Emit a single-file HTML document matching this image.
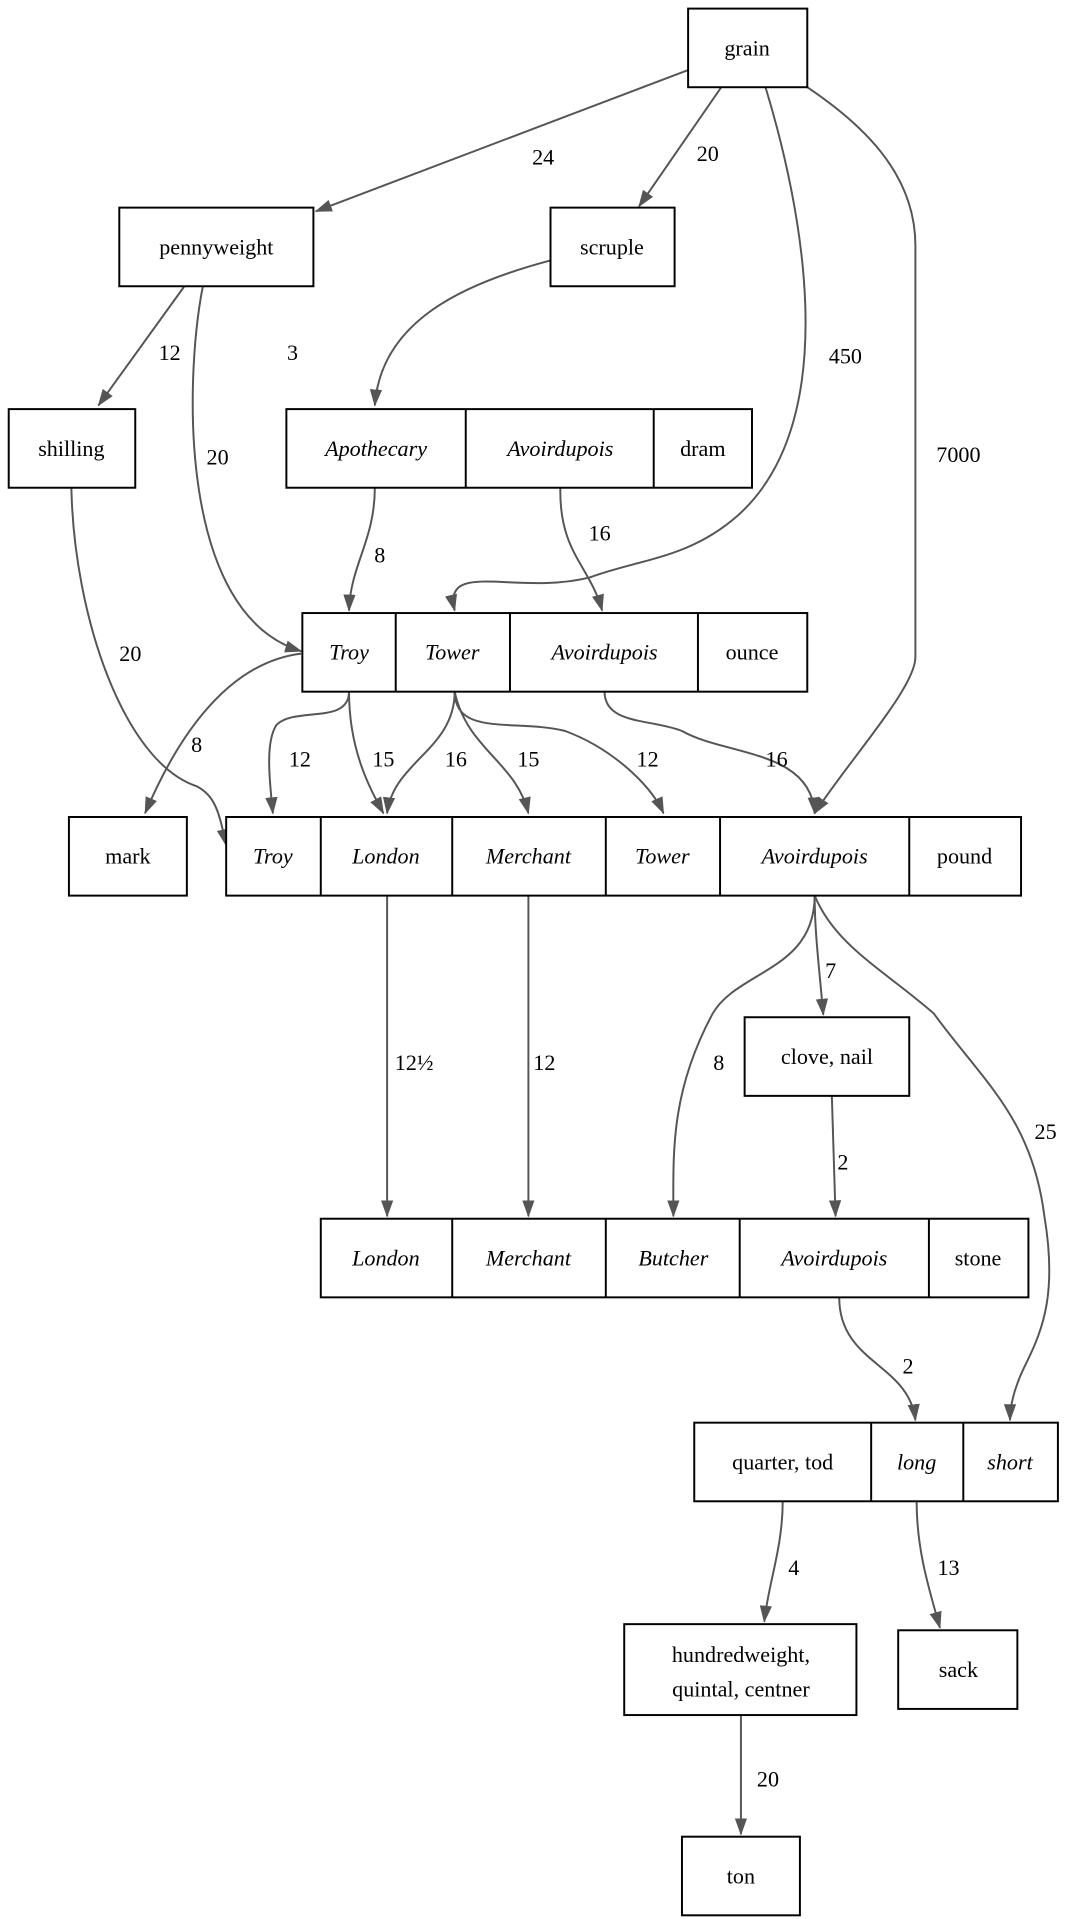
<!DOCTYPE html>
<html><head><meta charset="utf-8"><style>
html,body{margin:0;padding:0;background:#fff;}
svg{display:block;}
text{font-family:"Liberation Serif",serif;font-size:18px;fill:#000;}
.i{font-style:italic;}
.b{fill:#fff;stroke:#000;stroke-width:1.6;}
.d{stroke:#000;stroke-width:1.6;}
.e{fill:none;stroke:#555;stroke-width:1.6;}
</style></head><body>
<svg width="1074" height="1919" viewBox="0 0 874 1562" xmlns="http://www.w3.org/2000/svg">
<defs><marker id="a" viewBox="0 0 14 10" refX="13" refY="5" markerWidth="14" markerHeight="10" markerUnits="userSpaceOnUse" orient="auto"><path d="M0,0 L14,5 L0,10 z" fill="#555"/></marker></defs>
<g text-anchor="middle">
<g class="e" marker-end="url(#a)">
<path d="M560,57 L257,172"/>
<path d="M587,71 L520,168"/>
<path d="M623,71 C650,160 690,340 600,420 C560,455 520,455 480,470 C420,485 360,455 370,497"/>
<path d="M657,71 C700,100 745,140 745,200 L745,535 C745,560 690,620 663,662"/>
<path d="M150,233 L80,330"/>
<path d="M165,233 C150,310 145,500 245,530"/>
<path d="M448,212 C380,230 310,260 305,330"/>
<path d="M58,397 C60,500 100,620 160,640 C175,648 178,660 184,688"/>
<path d="M305,397 C305,440 285,460 284,497"/>
<path d="M456,397 C455,450 480,460 490,497"/>
<path d="M245,532 C180,540 140,610 118,662"/>
<path d="M284,563 C284,590 240,575 225,590 C215,605 220,640 222,662"/>
<path d="M284,563 C284,610 300,640 312,662"/>
<path d="M370,563 C370,610 320,620 315,662"/>
<path d="M370,563 C380,610 420,620 430,662"/>
<path d="M370,563 C370,600 420,585 460,595 C500,610 530,640 540,662"/>
<path d="M492,563 C492,590 530,585 555,595 C590,615 660,610 663,662"/>
<path d="M315,729 L315,990"/>
<path d="M430,729 L430,990"/>
<path d="M663,729 C663,790 600,790 580,825 C545,890 548,940 548,990"/>
<path d="M663,729 C663,760 667,790 670,826"/>
<path d="M663,729 C680,770 720,790 760,825 C800,880 840,910 850,990 C860,1050 850,1080 835,1110 C825,1130 822,1145 822,1156"/>
<path d="M677,892 L680,990"/>
<path d="M683,1056 C683,1110 740,1110 745,1156"/>
<path d="M637,1222 C637,1260 625,1290 622,1320"/>
<path d="M746,1222 C746,1260 755,1290 765,1325"/>
<path d="M603,1396 L603,1493"/>
</g>
<text x="442" y="134">24</text><text x="576" y="131">20</text>
<text x="688" y="296">450</text><text x="780" y="376">7000</text>
<text x="138" y="293">12</text><text x="177" y="378">20</text>
<text x="238" y="293">3</text><text x="106" y="538">20</text>
<text x="309" y="458">8</text><text x="488" y="440">16</text>
<text x="160" y="612">8</text>
<text x="244" y="624">12</text><text x="312" y="624">15</text><text x="371" y="624">16</text>
<text x="430" y="624">15</text><text x="527" y="624">12</text><text x="632" y="624">16</text>
<text x="337" y="871">12½</text><text x="443" y="871">12</text>
<text x="585" y="871">8</text><text x="676" y="796">7</text><text x="851" y="927">25</text>
<text x="686" y="952">2</text><text x="739" y="1118">2</text>
<text x="646" y="1282">4</text><text x="772" y="1282">13</text><text x="625" y="1454">20</text>
<rect class="b" x="560" y="7" width="97" height="64"/><text x="608" y="45">grain</text>
<rect class="b" x="97" y="169" width="158" height="64"/><text x="176" y="207">pennyweight</text>
<rect class="b" x="448" y="169" width="101" height="64"/><text x="498" y="207">scruple</text>
<rect class="b" x="7" y="333" width="103" height="64"/><text x="58" y="371">shilling</text>
<rect class="b" x="233" y="333" width="379" height="64"/>
<line class="d" x1="379" y1="333" x2="379" y2="397"/><line class="d" x1="532" y1="333" x2="532" y2="397"/>
<text class="i" x="306" y="371">Apothecary</text><text class="i" x="456" y="371">Avoirdupois</text><text x="572" y="371">dram</text>
<rect class="b" x="246" y="499" width="411" height="64"/>
<line class="d" x1="322" y1="499" x2="322" y2="563"/><line class="d" x1="415" y1="499" x2="415" y2="563"/><line class="d" x1="568" y1="499" x2="568" y2="563"/>
<text class="i" x="284" y="537">Troy</text><text class="i" x="368" y="537">Tower</text><text class="i" x="492" y="537">Avoirdupois</text><text x="612" y="537">ounce</text>
<rect class="b" x="56" y="665" width="96" height="64"/><text x="104" y="703">mark</text>
<rect class="b" x="184" y="665" width="647" height="64"/>
<line class="d" x1="261" y1="665" x2="261" y2="729"/><line class="d" x1="368" y1="665" x2="368" y2="729"/><line class="d" x1="493" y1="665" x2="493" y2="729"/><line class="d" x1="586" y1="665" x2="586" y2="729"/><line class="d" x1="740" y1="665" x2="740" y2="729"/>
<text class="i" x="222" y="703">Troy</text><text class="i" x="314" y="703">London</text><text class="i" x="430" y="703">Merchant</text><text class="i" x="539" y="703">Tower</text><text class="i" x="663" y="703">Avoirdupois</text><text x="785" y="703">pound</text>
<rect class="b" x="606" y="828" width="134" height="64"/><text x="673" y="866">clove, nail</text>
<rect class="b" x="261" y="992" width="576" height="64"/>
<line class="d" x1="368" y1="992" x2="368" y2="1056"/><line class="d" x1="493" y1="992" x2="493" y2="1056"/><line class="d" x1="602" y1="992" x2="602" y2="1056"/><line class="d" x1="756" y1="992" x2="756" y2="1056"/>
<text class="i" x="314" y="1030">London</text><text class="i" x="430" y="1030">Merchant</text><text class="i" x="548" y="1030">Butcher</text><text class="i" x="679" y="1030">Avoirdupois</text><text x="796" y="1030">stone</text>
<rect class="b" x="565" y="1158" width="296" height="64"/>
<line class="d" x1="709" y1="1158" x2="709" y2="1222"/><line class="d" x1="784" y1="1158" x2="784" y2="1222"/>
<text x="637" y="1196">quarter, tod</text><text class="i" x="746" y="1196">long</text><text class="i" x="822" y="1196">short</text>
<rect class="b" x="508" y="1322" width="189" height="74"/><text x="603" y="1353">hundredweight,</text><text x="603" y="1381">quintal, centner</text>
<rect class="b" x="731" y="1327" width="97" height="64"/><text x="780" y="1365">sack</text>
<rect class="b" x="555" y="1495" width="96" height="64"/><text x="603" y="1533">ton</text>
</g>
</svg>
</body></html>
